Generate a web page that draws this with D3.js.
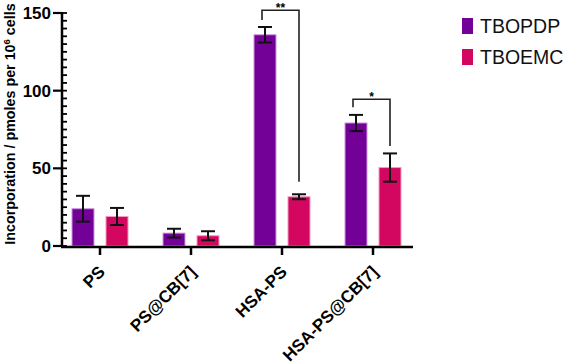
<!DOCTYPE html>
<html>
<head>
<meta charset="utf-8">
<script src="https://cdn.jsdelivr.net/npm/d3@7"></script>
<style>
  body { margin: 0; background: #fff; }
  text { font-family: "Liberation Sans", Arial, sans-serif; }
</style>
</head>
<body>
<div id="chart"></div>
<script>
// data
var groups = ["PS", "PS@CB[7]", "HSA-PS", "HSA-PS@CB[7]"];
var series = ["TBOPDP", "TBOEMC"];
var tbopdp = [24, 8.3, 136, 79.2];
var tbopdpErr = [8.3, 2.8, 5, 5.2];
var tboemc = [19, 6.6, 31.7, 50.5];
var tboemcErr = [5.5, 2.9, 1.6, 9.1];
var yTicks = [0, 50, 100, 150];
// significance brackets: group index, top value, left / right leg ends, label
var sig = [
  {g: 2, top: 151.8, left: 145.5, right: 41.4, label: "**"},
  {g: 3, top: 94.5, left: 89.3, right: 64.4, label: "*"}
];

var w = 563, h = 364;
var colors = {"TBOPDP": "#730097", "TBOEMC": "#d3075f"};
var strokes = {"TBOPDP": "#c99ade", "TBOEMC": "#f29bbf"};

var svg = d3.select("#chart").append("svg")
  .attr("width", w)
  .attr("height", h);

var x = d3.scaleBand()
  .domain(groups)
  .range([54.5, 418.5])
  .padding(0);

var y = d3.scaleLinear()
  .domain([0, 150])
  .range([246, 13]);

var rows = [];
groups.forEach(function(g, i){
  rows.push({g: g, s: "TBOPDP", v: tbopdp[i], e: tbopdpErr[i], off: -17});
  rows.push({g: g, s: "TBOEMC", v: tboemc[i], e: tboemcErr[i], off: 17});
});
var bw = 22;
function cx(d){ return x(d.g) + x.bandwidth() / 2 + d.off; }

// bars
svg.selectAll(".bar")
  .data(rows)
  .enter()
    .append("rect")
      .attr("class", "bar")
      .attr("x", function(d){ return cx(d) - bw / 2 })
      .attr("y", function(d){ return y(d.v) })
      .attr("width", bw)
      .attr("height", function(d){ return y(0) - y(d.v) })
      .style("fill", function(d){ return colors[d.s] })
      .style("stroke", function(d){ return strokes[d.s] })
      .style("stroke-width", 1);

// error bars
var err = svg.selectAll(".err")
  .data(rows)
  .enter()
    .append("g")
      .attr("class", "err")
      .style("stroke", "#111")
      .style("stroke-width", 2);
err.append("line")
  .attr("x1", cx).attr("x2", cx)
  .attr("y1", function(d){ return y(d.v + d.e) })
  .attr("y2", function(d){ return y(d.v - d.e) });
err.append("line")
  .attr("x1", function(d){ return cx(d) - 7 }).attr("x2", function(d){ return cx(d) + 7 })
  .attr("y1", function(d){ return y(d.v + d.e) })
  .attr("y2", function(d){ return y(d.v + d.e) });
err.append("line")
  .attr("x1", function(d){ return cx(d) - 7 }).attr("x2", function(d){ return cx(d) + 7 })
  .attr("y1", function(d){ return y(d.v - d.e) })
  .attr("y2", function(d){ return y(d.v - d.e) });

// y axis: major ticks crossing, minor ticks inside
var yAxis = svg.append("g").attr("class", "yaxis");
yAxis.append("line")
  .attr("x1", 62).attr("x2", 62)
  .attr("y1", y(150) - 1).attr("y2", y(0) + 1)
  .style("stroke", "#000").style("stroke-width", 2.5);
yAxis.selectAll(".minor")
  .data(d3.range(0, 151, 5))
  .enter()
    .append("line")
      .attr("x1", 62).attr("x2", 67)
      .attr("y1", function(d){ return y(d) })
      .attr("y2", function(d){ return y(d) })
      .style("stroke", "#000").style("stroke-width", 1.8);
yAxis.selectAll(".major")
  .data(yTicks)
  .enter()
    .append("line")
      .attr("x1", 53).attr("x2", 62)
      .attr("y1", function(d){ return y(d) })
      .attr("y2", function(d){ return y(d) })
      .style("stroke", "#000").style("stroke-width", 2.2);
yAxis.selectAll(".ylab")
  .data(yTicks)
  .enter()
    .append("text")
      .attr("x", 51)
      .attr("y", function(d){ return y(d) })
      .attr("dy", "0.36em")
      .style("text-anchor", "end")
      .style("font-size", "17px")
      .style("font-weight", "bold")
      .text(function(d){ return d });

// x axis
svg.append("line")
  .attr("x1", 61).attr("x2", 413)
  .attr("y1", 247).attr("y2", 247)
  .style("stroke", "#000").style("stroke-width", 2.5);
var xAxis = svg.append("g")
  .attr("transform", "translate(0,247)")
  .call(d3.axisBottom(x).tickSize(8).tickSizeOuter(0));
xAxis.select(".domain").remove();
xAxis.selectAll(".tick line").style("stroke", "#000").style("stroke-width", 2.5);
xAxis.selectAll(".tick text")
  .style("font-size", "17px")
  .style("font-weight", "bold")
  .style("font-family", "'Liberation Sans', Arial, sans-serif")
  .style("fill", "#000")
  .style("text-anchor", "end")
  .attr("x", 0)
  .attr("y", 0)
  .attr("dy", 0)
  .attr("transform", "translate(6,26) rotate(-45)");

// y label
svg.append("text")
  .attr("transform", "translate(15,124) rotate(-90)")
  .style("text-anchor", "middle")
  .style("font-size", "14.3px")
  .style("font-weight", "bold")
  .html("Incorporation / pmoles per 10<tspan dy='-5' font-size='9.5'>6</tspan><tspan dy='5'> cells</tspan>");

// significance brackets
sig.forEach(function(s){
  var xl = x(groups[s.g]) + x.bandwidth() / 2 - 17 - 3;
  var xr = x(groups[s.g]) + x.bandwidth() / 2 + 17;
  svg.append("path")
    .attr("d", "M" + xl + "," + y(s.left) + "V" + y(s.top) + "H" + xr + "V" + y(s.right))
    .style("fill", "none")
    .style("stroke", "#222")
    .style("stroke-width", 1.6);
  svg.append("text")
    .attr("x", (xl + xr) / 2)
    .attr("y", y(s.top) + 2)
    .style("text-anchor", "middle")
    .style("font-size", "12px")
    .style("font-weight", "bold")
    .text(s.label);
});

// legend
var legend = svg.selectAll(".legend")
  .data(series)
  .enter()
    .append("g")
      .attr("class", "legend")
      .attr("transform", function(d, i){ return "translate(462," + (18 + i * 31) + ")" });
legend.append("rect")
  .attr("width", 11)
  .attr("height", 16)
  .style("fill", function(d){ return colors[d] });
legend.append("text")
  .attr("x", 18)
  .attr("y", 15)
  .style("font-size", "19.5px")
  .style("fill", "#111")
  .text(function(d){ return d });
</script>
</body>
</html>
